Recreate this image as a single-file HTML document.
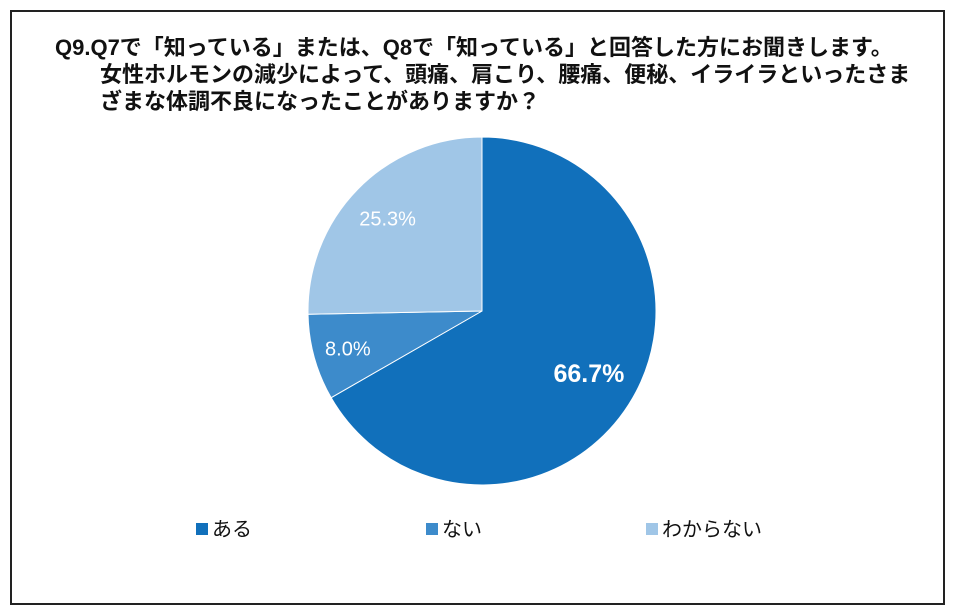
<!DOCTYPE html>
<html><head><meta charset="utf-8">
<style>
body{margin:0;background:#fff;}
#wrap{position:relative;width:956px;height:614px;overflow:hidden;font-family:"Liberation Sans","Noto Sans CJK JP",sans-serif;}
#frame{position:absolute;left:10px;top:10px;width:931px;height:591px;border:2px solid #222;}
.t{position:absolute;font-weight:bold;font-size:22px;line-height:26px;color:#111;white-space:nowrap;}
</style></head><body>
<div id="wrap">
<div id="frame"></div>
<div class="t" style="left:55px;top:35px">Q9.Q7で「知っている」または、Q8で「知っている」と回答した方にお聞きします。</div>
<div class="t" style="left:100px;top:62px">女性ホルモンの減少によって、頭痛、肩こり、腰痛、便秘、イライラといったさま</div>
<div class="t" style="left:100px;top:89px">ざまな体調不良になったことがありますか？</div>
<svg id="pie" width="956" height="614" style="position:absolute;left:0;top:0"></svg>
</div>
<script>
const categories=["ある","ない","わからない"];
const values=[66.7,8.0,25.3];
const labels=["66.7%","8.0%","25.3%"];
const colors=["#1170bb","#3d8bcb","#a0c6e7"];
const svg=document.getElementById('pie');
const NS="http://www.w3.org/2000/svg";
const cx=482,cy=311,r=174;
const total=values.reduce((a,b)=>a+b,0);
let a0=0;
const labelR=[0.71,0.80,0.76];
const fs=[25,20,20];
values.forEach((v,i)=>{
  const a1=a0+v/total*2*Math.PI;
  const x0=cx+r*Math.sin(a0),y0=cy-r*Math.cos(a0);
  const x1=cx+r*Math.sin(a1),y1=cy-r*Math.cos(a1);
  const p=document.createElementNS(NS,'path');
  p.setAttribute('d',`M${cx},${cy}L${x0},${y0}A${r},${r} 0 ${a1-a0>Math.PI?1:0} 1 ${x1},${y1}Z`);
  p.setAttribute('fill',colors[i]);
  p.setAttribute('stroke','#fff');p.setAttribute('stroke-width','1');
  
  
  svg.appendChild(p);
  const am=(a0+a1)/2;
  const t=document.createElementNS(NS,'text');
  t.setAttribute('x',cx+r*labelR[i]*Math.sin(am));
  t.setAttribute('y',cy-r*labelR[i]*Math.cos(am)+fs[i]*0.36);
  t.setAttribute('text-anchor','middle');
  t.setAttribute('fill','#fff');
  t.setAttribute('font-size',fs[i]);
  t.setAttribute('font-weight',i==0?'bold':'normal');
  t.setAttribute('font-family','Liberation Sans, sans-serif');
  t.textContent=labels[i];
  
  
  svg.appendChild(t);
  a0=a1;
});
const lx=[196,426,646];
categories.forEach((c,i)=>{
  const g=document.createElementNS(NS,'g');
  
  
  const s=document.createElementNS(NS,'rect');
  s.setAttribute('x',lx[i]);s.setAttribute('y',523);s.setAttribute('width',12);s.setAttribute('height',12);
  s.setAttribute('fill',colors[i]);
  
  
  g.appendChild(s);
  const t=document.createElementNS(NS,'text');
  t.setAttribute('x',lx[i]+16);t.setAttribute('y',536);
  t.setAttribute('font-size',20);t.setAttribute('fill','#111');
  t.setAttribute('font-family','Liberation Sans, Noto Sans CJK JP, sans-serif');
  t.textContent=c;
  
  
  g.appendChild(t);
  svg.appendChild(g);
});
</script>
</body></html>
